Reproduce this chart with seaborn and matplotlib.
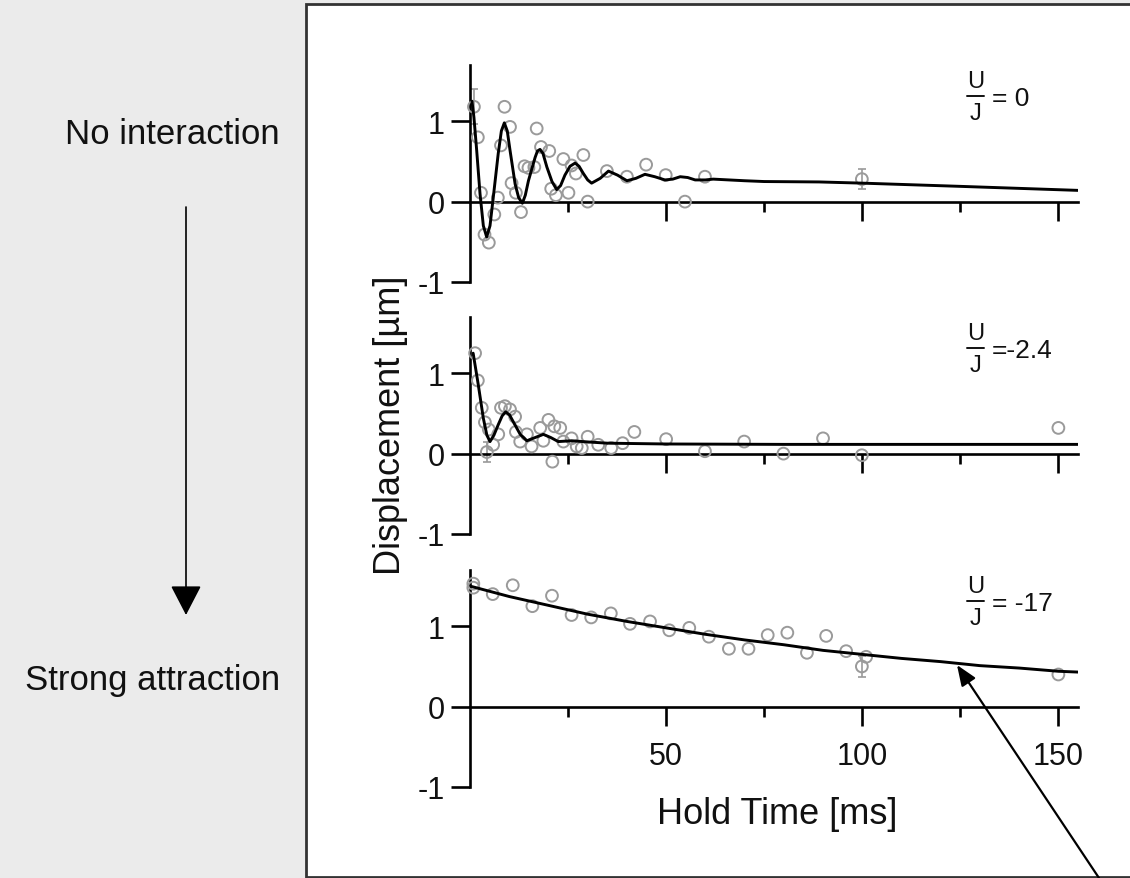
import matplotlib
matplotlib.use("Agg")
import matplotlib.pyplot as plt
import seaborn as sns
import pandas as pd
from matplotlib.patches import Rectangle, FancyArrowPatch
from matplotlib.lines import Line2D
from matplotlib.ticker import FixedLocator

# ---------------- data ----------------
# U/J = 0
x0_pts = [1.0, 2.0, 2.8, 3.7, 4.8, 6.2, 7.1, 7.9, 8.8, 10.2, 10.6, 11.7, 13.0, 13.9, 14.9,
          16.4, 17.0, 18.1, 20.2, 20.7, 21.9, 23.8, 25.1, 25.9, 27.0, 28.9, 30.0, 34.9,
          40.0, 44.9, 49.9, 54.8, 59.9, 99.9]
y0_pts = [1.18, 0.80, 0.11, -0.41, -0.51, -0.16, 0.05, 0.70, 1.18, 0.93, 0.23, 0.11, -0.13,
          0.44, 0.42, 0.43, 0.91, 0.68, 0.63, 0.16, 0.08, 0.53, 0.11, 0.45, 0.35, 0.58, 0.0,
          0.38, 0.31, 0.46, 0.33, 0.0, 0.31, 0.28]
x0_err = [1.0, 99.9]
y0_err = [1.18, 0.28]
e0_err = [0.22, 0.12]
x0_fit = [0.5, 1.0, 1.7, 2.55, 3.4, 4.25, 5.1, 5.95, 7.2, 8.0, 8.75, 9.5, 10.2, 11.5, 12.4,
          13.35, 14.1, 14.9, 16.6, 17.2, 17.85, 18.6, 19.6, 20.9, 22.1, 23.1, 24.2, 25.5,
          26.8, 27.8, 28.9, 30.0, 31.0, 33.2, 35.3, 37.6, 40.0, 42.3, 44.6, 47.1, 49.7,
          51.7, 53.6, 55.5, 57.4, 60.0, 62.0, 66.0, 70.0, 75.0, 89.0, 100.0, 125.0, 155.0]
y0_fit = [1.25, 1.05, 0.64, 0.10, -0.30, -0.44, -0.30, 0.06, 0.60, 0.88, 0.98, 0.88, 0.64,
          0.22, 0.05, -0.02, 0.08, 0.26, 0.55, 0.63, 0.65, 0.60, 0.43, 0.25, 0.15, 0.20,
          0.33, 0.44, 0.48, 0.44, 0.35, 0.27, 0.23, 0.29, 0.38, 0.33, 0.26, 0.29, 0.34,
          0.31, 0.27, 0.28, 0.31, 0.30, 0.27, 0.27, 0.28, 0.27, 0.26, 0.25, 0.245, 0.23,
          0.19, 0.14]

# U/J = -2.4
x1_pts = [1.3, 2.0, 3.0, 3.8, 4.3, 4.8, 5.9, 7.2, 7.9, 8.9, 10.2, 11.5, 11.7, 12.8, 14.5,
          15.7, 17.9, 18.7, 20.0, 21.0, 21.5, 23.0, 23.8, 25.9, 27.2, 28.5, 30.0, 32.7,
          36.0, 38.9, 41.9, 50.0, 59.9, 69.9, 79.9, 90.0, 99.9, 150.0]
y1_pts = [1.25, 0.91, 0.57, 0.39, 0.02, 0.30, 0.11, 0.24, 0.57, 0.59, 0.55, 0.46, 0.27,
          0.15, 0.24, 0.09, 0.32, 0.16, 0.42, -0.10, 0.34, 0.32, 0.15, 0.19, 0.09, 0.07,
          0.21, 0.11, 0.07, 0.13, 0.27, 0.18, 0.03, 0.15, 0.0, 0.19, -0.02, 0.32]
x1_err = [4.3]
y1_err = [0.02]
e1_err = [0.12]
x1_fit = [0.8, 2.1, 3.4, 4.3, 5.1, 6.1, 7.2, 8.2, 9.1, 10.1, 11.1, 12.8, 14.5, 16.6, 18.7,
          20.6, 22.5, 25.9, 30.2, 35.0, 50.0, 80.0, 120.0, 155.0]
y1_fit = [1.25, 0.86, 0.44, 0.23, 0.15, 0.23, 0.36, 0.47, 0.52, 0.48, 0.39, 0.24, 0.16,
          0.20, 0.24, 0.20, 0.15, 0.16, 0.145, 0.13, 0.12, 0.115, 0.115, 0.115]

# U/J = -17
x2_pts = [0.85, 0.85, 5.8, 10.9, 15.9, 20.9, 25.9, 30.9, 35.9, 40.8, 45.9, 50.8, 55.9, 60.9,
          66.0, 71.0, 75.9, 80.9, 85.9, 90.8, 95.9, 99.9, 101.0, 150.0]
y2_pts = [1.53, 1.48, 1.40, 1.51, 1.25, 1.38, 1.14, 1.11, 1.16, 1.03, 1.06, 0.95, 0.98, 0.87,
          0.72, 0.72, 0.89, 0.92, 0.67, 0.88, 0.69, 0.50, 0.62, 0.40]
x2_err = [99.9]
y2_err = [0.50]
e2_err = [0.13]
x2_fit = [0, 10, 20, 30, 40, 50, 60, 70, 80, 90, 100, 110, 120, 130, 140, 150, 155]
y2_fit = [1.50, 1.37, 1.26, 1.15, 1.06, 0.98, 0.90, 0.83, 0.77, 0.70, 0.65, 0.60, 0.56,
          0.51, 0.48, 0.44, 0.43]

panel_values = ["= 0", "=-2.4", "= -17"]
y_ticks = [-1, 0, 1]
y_tick_labels = ["-1", "0", "1"]
x_major = [50, 100, 150]
x_minor = [25, 75, 125]

# ---------------- style ----------------
sns.set_theme(style="ticks")
plt.rcParams["font.family"] = ["Liberation Sans", "DejaVu Sans"]
plt.rcParams["axes.unicode_minus"] = False

W, H = 1130, 879
fig = plt.figure(figsize=(W / 100, H / 100), dpi=100, facecolor="#ebebeb")

# white framed panel
fig.add_artist(Rectangle((306 / W, 1 - 878 / H), 1.0, 873 / H, transform=fig.transFigure,
                         facecolor="white", edgecolor="#333333", linewidth=2.0, zorder=-5))

left = 470 / W
width = (1078 - 470) / W
height = 217 / H
bottoms = [1 - 283 / H, 1 - 535 / H, 1 - 788 / H]

datasets = [
    (x0_pts, y0_pts, x0_err, y0_err, e0_err, x0_fit, y0_fit),
    (x1_pts, y1_pts, x1_err, y1_err, e1_err, x1_fit, y1_fit),
    (x2_pts, y2_pts, x2_err, y2_err, e2_err, x2_fit, y2_fit),
]

pt_color = "#9a9a9a"
txt_color = "#111111"
for i, (xp, yp, xe, ye, ee, xf, yf) in enumerate(datasets):
    ax = fig.add_axes([left, bottoms[i], width, height])
    ax.set_facecolor("none")
    pts = pd.DataFrame({"t": xp, "d": yp})
    fit = pd.DataFrame({"t": xf, "d": yf})
    ax.errorbar(xe, ye, yerr=ee, fmt="none", ecolor=pt_color, elinewidth=1.2,
                capsize=3, capthick=1.2, clip_on=False, zorder=2)
    sns.scatterplot(data=pts, x="t", y="d", ax=ax, marker="o", s=72,
                    facecolor="none", edgecolor=pt_color, linewidth=1.4,
                    clip_on=False, zorder=3)
    sns.lineplot(data=fit, x="t", y="d", ax=ax, color="black", linewidth=2.1,
                 estimator=None, sort=True, zorder=4)
    ax.set_xlim(0, 155)
    ax.set_ylim(-1, 1.7)
    ax.set_xlabel("")
    ax.set_ylabel("")
    for s in ["top", "right"]:
        ax.spines[s].set_visible(False)
    ax.spines["bottom"].set_position(("data", 0))
    for s in ["bottom", "left"]:
        ax.spines[s].set_linewidth(1.9)
        ax.spines[s].set_color("black")
    ax.xaxis.set_major_locator(FixedLocator(x_major))
    ax.xaxis.set_minor_locator(FixedLocator(x_minor))
    ax.set_yticks(y_ticks)
    ax.set_yticklabels(y_tick_labels)
    ax.tick_params(axis="both", which="major", direction="out", length=14, width=1.9,
                   color="black", bottom=True, left=True)
    ax.tick_params(axis="x", which="minor", direction="out", length=7, width=1.9,
                   color="black", bottom=True)
    ax.tick_params(axis="y", labelsize=22, pad=4, labelcolor=txt_color)
    ax.tick_params(axis="x", labelsize=22, pad=11, labelcolor=txt_color)
    if i < 2:
        ax.tick_params(axis="x", labelbottom=False)

    # panel label: U over J fraction followed by value
    ax.text(128.8, 1.50, "U", fontsize=17, ha="center", va="center", color=txt_color)
    ax.text(128.8, 1.10, "J", fontsize=17, ha="center", va="center", color=txt_color)
    ax.add_line(Line2D([126.6, 131.0], [1.317, 1.317], color=txt_color, lw=1.4))
    ax.text(133.0, 1.29, panel_values[i], fontsize=19, ha="left", va="center",
            color=txt_color)

fig.text(777 / W, 1 - 815 / H, "Hold Time [ms]", ha="center", va="center",
         fontsize=26, color=txt_color)
fig.text(390 / W, 1 - 425 / H, "Displacement [µm]", ha="center", va="center",
         rotation=90, fontsize=26, color=txt_color)

fig.text(280 / W, 1 - 135 / H, "No interaction", ha="right", va="center",
         fontsize=25, color=txt_color)
fig.text(280 / W, 1 - 681 / H, "Strong attraction", ha="right", va="center",
         fontsize=25, color=txt_color)

fig.add_artist(FancyArrowPatch((186 / W, 1 - 208 / H), (186 / W, 1 - 616 / H),
                               transform=fig.transFigure,
                               arrowstyle="-|>,head_length=1.87,head_width=0.97",
                               mutation_scale=10, lw=1.2, color="black",
                               shrinkA=0, shrinkB=0, zorder=10))
fig.add_artist(FancyArrowPatch((1099 / W, 0.0), (957 / W, 1 - 666 / H),
                               transform=fig.transFigure,
                               arrowstyle="-|>,head_length=1.25,head_width=0.5",
                               mutation_scale=10, lw=1.6, color="black",
                               shrinkA=0, shrinkB=0, zorder=10))

fig.savefig("out.png", dpi=100, facecolor=fig.get_facecolor())
